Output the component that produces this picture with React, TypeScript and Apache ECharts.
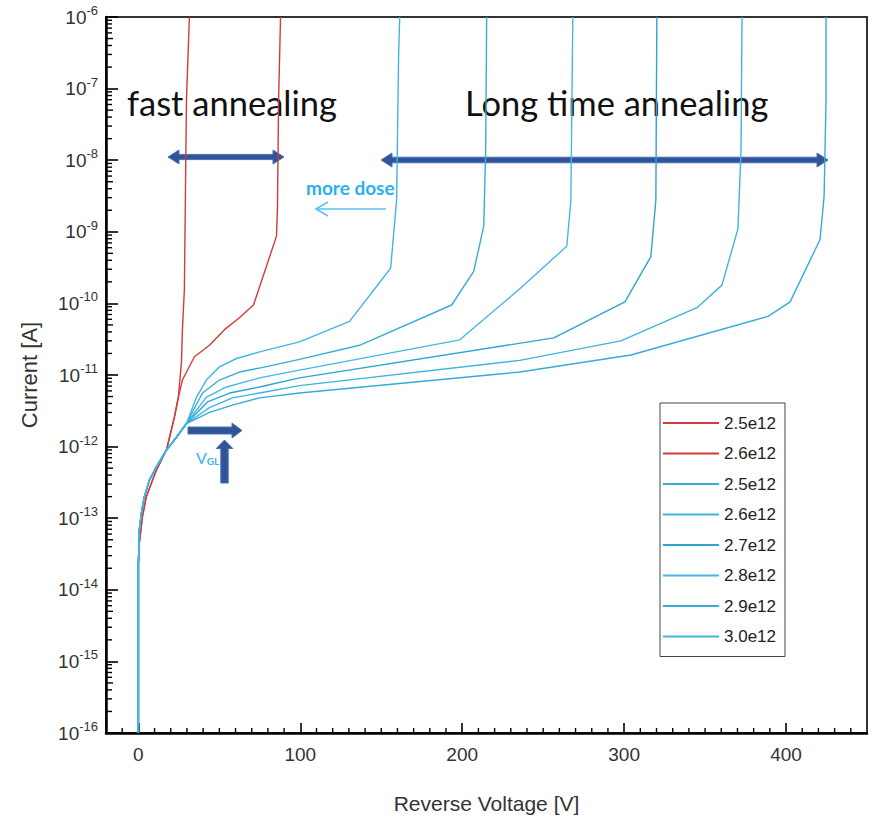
import React, { useEffect, useRef } from "react";
import * as echarts from "echarts";

// ---------- data ----------
// x tick labels (V) and y decades (log10 A)
const xTickValues = [0, 100, 200, 300, 400];
const xMinorStep = 10;
const yDecadeMin = -16;
const yDecadeMax = -6;
const xMin = -20;
const xMax = 450;

// shared low-voltage part of the fast-annealing (red) curves
const redBaseV = [0, 0, 0.6, 2.5, 4.9, 11.1, 17.3, 22.3, 24.7];
const redBaseI = [1e-16, 2.3e-14, 4.5e-14, 1.05e-13, 2.0e-13, 4.7e-13, 8.9e-13, 2.6e-12, 4.9e-12];

// red 2.5e12 (fast annealing)
const fast25V = [27.2, 34.6, 43.9, 53.2, 62.4, 71.1, 85.3, 85.9, 86.6, 87.8];
const fast25I = [8.5e-12, 1.8e-11, 2.6e-11, 4.3e-11, 6.3e-11, 9.5e-11, 8.7e-10, 2.2e-9, 6.9e-8, 1e-6];
// red 2.6e12 (fast annealing)
const fast26V = [26.6, 27.2, 28.4, 29.7, 31.5];
const fast26I = [1.5e-11, 4.3e-11, 1.55e-10, 6.9e-8, 1e-6];

// shared low-voltage part of the long-time-annealing (blue) curves
const blueBaseV = [0, 0, 0.6, 1.9, 3.7, 6.8, 11.1, 17.3, 23.5, 29.7];
const blueBaseI = [1e-16, 2.3e-14, 6.9e-14, 1.2e-13, 2.0e-13, 3.4e-13, 5.2e-13, 8.9e-13, 1.35e-12, 2.1e-12];

const long25V = [43.9, 58.1, 74.8, 99.5, 235.6, 304.2, 388.9, 402.5, 421.0, 423.5, 424.7, 424.7];
const long25I = [3.0e-12, 3.8e-12, 4.8e-12, 5.6e-12, 1.1e-11, 1.9e-11, 6.6e-11, 1.05e-10, 7.8e-10, 3.1e-9, 6.9e-8, 1e-6];

const long26V = [43.9, 58.1, 74.8, 99.5, 235.6, 298.0, 345.0, 360.4, 370.3, 372.2, 372.8];
const long26I = [3.5e-12, 4.8e-12, 5.6e-12, 7.1e-12, 1.6e-11, 3.0e-11, 8.7e-11, 1.8e-10, 1.1e-9, 1.4e-8, 1e-6];

const long27V = [42.7, 56.3, 74.8, 99.5, 256.6, 300.5, 316.5, 319.6, 320.2];
const long27I = [4.2e-12, 5.6e-12, 6.8e-12, 9.1e-12, 3.3e-11, 1.05e-10, 4.5e-10, 2.8e-9, 1e-6];

const long28V = [42.0, 54.4, 74.8, 99.5, 198.5, 235.6, 264.6, 267.1, 268.3];
const long28I = [4.9e-12, 6.8e-12, 9.1e-12, 1.17e-11, 3.1e-11, 1.6e-10, 6.3e-10, 2.7e-9, 1e-6];

const long29V = [39.6, 50.1, 62.4, 74.8, 99.5, 136.6, 193.5, 207.1, 213.3, 214.5, 215.1];
const long29I = [5.6e-12, 8.5e-12, 1.1e-11, 1.25e-11, 1.65e-11, 2.6e-11, 9.5e-11, 2.8e-10, 1.2e-9, 1.4e-8, 1e-6];

const long30V = [35.9, 42.0, 50.1, 60.6, 74.8, 99.5, 130.4, 155.8, 159.5, 160.7, 161.4];
const long30I = [4.9e-12, 8.5e-12, 1.3e-11, 1.7e-11, 2.1e-11, 2.9e-11, 5.6e-11, 3.1e-10, 2.8e-9, 2.8e-7, 1e-6];

const legendLabels = ["2.5e12", "2.6e12", "2.5e12", "2.6e12", "2.7e12", "2.8e12", "2.9e12", "3.0e12"];

// ---------- helpers ----------
const pairs = (v: number[], i: number[]) => v.map((x, k) => [x, Math.log10(i[k])]);

const RED = "#d43a3a";
const BLUES = ["#36abd9", "#3fb3e0", "#2fa4d3", "#45b8e3", "#37acd9", "#41b5e1"];
const ARROW_FILL = "#2f5597";
const ARROW_EDGE = "#4a72b8";
const LABEL_FONT = "'Liberation Sans', Arial, sans-serif";
const NOTE_FONT = "Lato, 'Open Sans', sans-serif";

function doubleArrow(x1: number, x2: number, y: number, s: number, h: number, L: number) {
  return [
    [x1, y], [x1 + L, y - h], [x1 + L, y - s], [x2 - L, y - s], [x2 - L, y - h],
    [x2, y], [x2 - L, y + h], [x2 - L, y + s], [x1 + L, y + s], [x1 + L, y + h],
  ];
}
function rightArrow(x1: number, x2: number, y: number, s: number, h: number, L: number) {
  return [
    [x1, y - s], [x2 - L, y - s], [x2 - L, y - h], [x2, y], [x2 - L, y + h], [x2 - L, y + s], [x1, y + s],
  ];
}
function upArrow(x: number, yb: number, yt: number, s: number, h: number, L: number) {
  return [
    [x - s, yb], [x - s, yt + L], [x - h, yt + L], [x, yt], [x + h, yt + L], [x + s, yt + L], [x + s, yb],
  ];
}

export default function App() {
  const ref = useRef<HTMLDivElement>(null);

  useEffect(() => {
    const chart = echarts.init(ref.current!, undefined, { renderer: "svg" });

    const curves = [
      { name: "r|" + legendLabels[0], data: pairs(redBaseV.concat(fast25V), redBaseI.concat(fast25I)), color: RED },
      { name: "r|" + legendLabels[1], data: pairs(redBaseV.concat(fast26V), redBaseI.concat(fast26I)), color: RED },
      { name: "b|" + legendLabels[2], data: pairs(blueBaseV.concat(long25V), blueBaseI.concat(long25I)), color: BLUES[0] },
      { name: "b|" + legendLabels[3], data: pairs(blueBaseV.concat(long26V), blueBaseI.concat(long26I)), color: BLUES[1] },
      { name: "b|" + legendLabels[4], data: pairs(blueBaseV.concat(long27V), blueBaseI.concat(long27I)), color: BLUES[2] },
      { name: "b|" + legendLabels[5], data: pairs(blueBaseV.concat(long28V), blueBaseI.concat(long28I)), color: BLUES[3] },
      { name: "b|" + legendLabels[6], data: pairs(blueBaseV.concat(long29V), blueBaseI.concat(long29I)), color: BLUES[4] },
      { name: "b|" + legendLabels[7], data: pairs(blueBaseV.concat(long30V), blueBaseI.concat(long30I)), color: BLUES[5] },
    ];

    // minor tick table: [x, y, dx, dy] (anchor on an axis, pixel direction/length)
    const minorTicks: number[][] = [];
    for (let n = yDecadeMin; n < yDecadeMax; n++) {
      for (let k = 2; k <= 9; k++) minorTicks.push([xMin, n + Math.log10(k), k === 5 ? 7 : 6, 0]);
    }
    for (let v = xMin + xMinorStep; v < xMax; v += xMinorStep) {
      if (xTickValues.indexOf(v) < 0) minorTicks.push([v, yDecadeMin, 0, -5]);
    }

    const option: any = {
      animation: false,
      backgroundColor: "#ffffff",
      grid: {
        left: 106, top: 17, right: 6, bottom: 85,
        show: true, borderColor: "#333", borderWidth: 2,
        containLabel: false, outerBoundsMode: "none",
      },
      xAxis: {
        type: "value", min: xMin, max: xMax, position: "bottom",
        name: "Reverse Voltage [V]", nameLocation: "middle", nameGap: 60,
        nameTextStyle: { fontSize: 21, color: "#333", fontFamily: LABEL_FONT },
        axisLine: { show: true, onZero: false, lineStyle: { color: "#000", width: 2.5 } },
        axisTick: { show: true, inside: true, length: 10, customValues: xTickValues, lineStyle: { color: "#000", width: 1.6 } },
        axisLabel: { show: true, customValues: xTickValues, margin: 12, fontSize: 19, color: "#333", fontFamily: LABEL_FONT },
        splitLine: { show: false },
      },
      yAxis: {
        type: "value", min: yDecadeMin, max: yDecadeMax, interval: 1, position: "left",
        name: "Current [A]", nameLocation: "middle", nameGap: 66,
        nameTextStyle: { fontSize: 22, color: "#333", fontFamily: LABEL_FONT },
        axisLine: { show: true, onZero: false, lineStyle: { color: "#000", width: 2.5 } },
        axisTick: { show: true, inside: true, length: 12, lineStyle: { color: "#000", width: 1.6 } },
        axisLabel: {
          show: true, margin: 8, color: "#333", fontFamily: LABEL_FONT,
          formatter: (v: number) => `{b|10}{s|${Math.round(v)}}`,
          rich: {
            b: { fontSize: 19, lineHeight: 26, color: "#333", fontFamily: LABEL_FONT },
            s: { fontSize: 13, lineHeight: 15, verticalAlign: "top", color: "#333", fontFamily: LABEL_FONT },
          },
        },
        splitLine: { show: false },
      },
      legend: {
        show: true, orient: "vertical", left: 660, top: 403,
        padding: [10, 9, 10, 3], itemGap: 10.5, itemWidth: 56, itemHeight: 2, icon: "rect",
        backgroundColor: "#fff", borderColor: "#444", borderWidth: 1,
        data: curves.map((c) => c.name),
        formatter: (name: string) => name.split("|")[1],
        textStyle: { fontSize: 17, lineHeight: 20, color: "#222", fontFamily: LABEL_FONT },
      },
      series: [
        ...curves.map((c) => ({
          type: "line", name: c.name, data: c.data, symbol: "none", showSymbol: false,
          smooth: false, clip: true,
          lineStyle: { color: c.color, width: 1.4 }, itemStyle: { color: c.color },
          emphasis: { disabled: true },
        })),
        {
          type: "custom", name: "minorTicks", data: minorTicks, clip: false, silent: true, z: 5,
          dimensions: ["x", "y", "dx", "dy"],
          encode: { x: 0, y: 1 },
          renderItem: (_p: any, api: any) => {
            const p = api.coord([api.value(0), api.value(1)]);
            return {
              type: "line",
              shape: { x1: p[0], y1: p[1], x2: p[0] + api.value(2), y2: p[1] + api.value(3) },
              style: { stroke: "#000", lineWidth: 1.4 },
            };
          },
        },
      ],
      graphic: [
        { type: "text", left: 127, top: 85, style: { text: "fast annealing", fontSize: 34.5, fontFamily: NOTE_FONT, fill: "#111" } },
        { type: "text", left: 465, top: 85, style: { text: "Long time annealing", fontSize: 34.5, fontFamily: NOTE_FONT, fill: "#111" } },
        { type: "polygon", shape: { points: doubleArrow(168, 284, 157, 2.6, 7, 11) }, style: { fill: ARROW_FILL, stroke: ARROW_EDGE, lineWidth: 1 } },
        { type: "polygon", shape: { points: doubleArrow(381, 828, 160, 2.8, 7, 11) }, style: { fill: ARROW_FILL, stroke: ARROW_EDGE, lineWidth: 1 } },
        { type: "text", left: 306, top: 178, style: { text: "more dose", fontSize: 19, fontWeight: "bold", fontFamily: NOTE_FONT, fill: "#2bb0ee" } },
        { type: "polyline", shape: { points: [[386, 209], [316, 209]] }, style: { stroke: "#55c3f0", lineWidth: 1.6, fill: "none" } },
        { type: "polyline", shape: { points: [[328, 202], [316, 209], [328, 216]] }, style: { stroke: "#55c3f0", lineWidth: 1.6, fill: "none" } },
        { type: "polygon", shape: { points: rightArrow(188, 242, 430.5, 3.5, 7.5, 10) }, style: { fill: ARROW_FILL, stroke: ARROW_EDGE, lineWidth: 1 } },
        { type: "polygon", shape: { points: upArrow(224.5, 483, 440, 3.7, 8.3, 8.5) }, style: { fill: ARROW_FILL, stroke: ARROW_EDGE, lineWidth: 1 } },
        {
          type: "text", left: 196, top: 449,
          style: {
            text: "{v|V}{g|GL}",
            rich: {
              v: { fontSize: 16, fontFamily: NOTE_FONT, fill: "#3fb0ea", lineHeight: 18 },
              g: { fontSize: 10, fontWeight: "bold", fontFamily: NOTE_FONT, fill: "#3fb0ea", lineHeight: 12, verticalAlign: "bottom" },
            },
          },
        },
      ],
    };

    chart.setOption(option);
    return () => chart.dispose();
  }, []);

  return <div ref={ref} style={{ position: "fixed", left: 0, top: 0, width: 873, height: 818 }} />;
}
